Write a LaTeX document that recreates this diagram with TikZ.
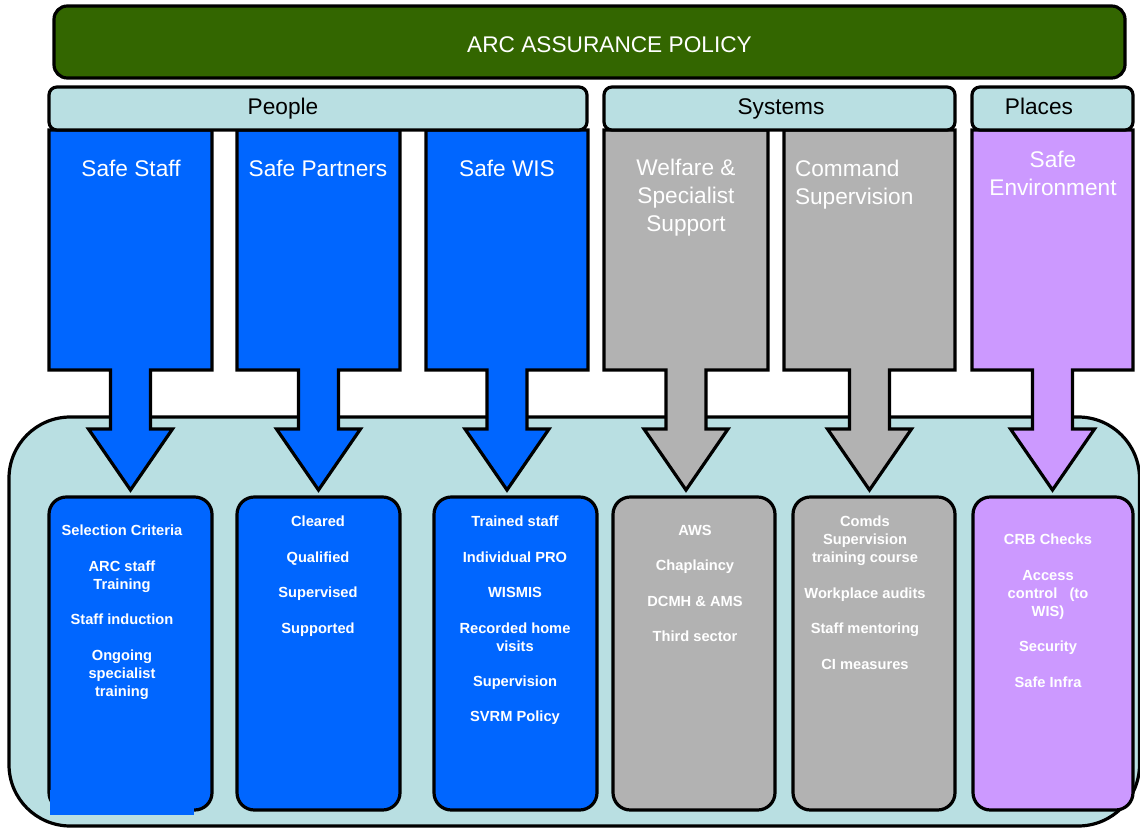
\documentclass[tikz,border=0pt]{standalone}
\usepackage{fontspec}
\setmainfont{Liberation Sans}
\usetikzlibrary{positioning,calc}

\definecolor{arcgreen}{HTML}{336600}
\definecolor{arcblue}{HTML}{0066FF}
\definecolor{arcgrey}{HTML}{B2B2B2}
\definecolor{arclilac}{HTML}{CC99FF}
\definecolor{arcpale}{HTML}{B9DFE2}
\newdimen\pxu \pxu=0.75pt
\newcommand\itemgap{13.1pt}

\tikzset{
  panel/.style={draw=black,line width=2.4pt},
  hdrbox/.style={panel,fill=arcpale,rounded corners=6pt,anchor=north west,minimum height=43\pxu},
  hdrtext/.style={anchor=base,font=\fontsize{17}{21}\selectfont},
  coltext/.style={anchor=north,text=white,align=center,font=\fontsize{17}{21}\selectfont},
  itembox/.style={panel,rounded corners=13pt,anchor=north west,minimum height=313\pxu},
  itemtext/.style={anchor=north,text=white,align=center,font=\bfseries\fontsize{11}{13.5}\selectfont}
}

\begin{document}
\begin{tikzpicture}[x=0.75pt,y=-0.75pt,every node/.style={inner sep=0pt,outer sep=0pt}]
\useasboundingbox (0,0) rectangle (1140,828);

\node[panel,fill=arcpale,rounded corners=46pt,anchor=north west,minimum width=1130.5\pxu,minimum height=409\pxu] (base) at (9,417) {};

% pillars
\foreach \n/\l/\r/\f in {1/49/212/arcblue,2/237/400/arcblue,3/426/588/arcblue,4/604/768/arcgrey,5/784/955/arcgrey,6/972/1133/arclilac}{
  \pgfmathsetmacro\c{(\l+\r)/2}
  \draw[panel,fill=\f] (\l,130) -- (\r,130) -- (\r,370) -- (\c+20,370) -- (\c+20,429) -- (\c+42,429)
    -- (\c,490) -- (\c-42,429) -- (\c-20,429) -- (\c-20,370) -- (\l,370) -- cycle;
}
\foreach \n/\x/\y/\t in {1/131/160/Safe Staff,2/318/160/Safe Partners,3/507/160/Safe WIS,4/686/159/{Welfare \&\\Specialist\\Support},6/1053/151/{Safe\\Environment}}
  \node[coltext] (ct\n) at (\x,\y) {\t};
\node[coltext,anchor=north west,align=left] (ct5) at (795,160) {Command\\Supervision};

% lower boxes
\foreach \n/\l/\w/\f in {1/49/163/arcblue,2/237/163/arcblue,3/434/163/arcblue,4/613/162/arcgrey,5/793/162/arcgrey,6/973/160/arclilac}
  \node[itembox,fill=\f,minimum width=\w\pxu] (b\n) at (\l,497) {};
\fill[arcblue] (50,790) rectangle (194,815);

\node[itemtext] (i1) at (122,525) {Selection Criteria\\[\itemgap]ARC staff\\Training\\[\itemgap]Staff induction\\[\itemgap]Ongoing\\specialist\\training};
\node[itemtext] (i2) at (318,516) {Cleared\\[\itemgap]Qualified\\[\itemgap]Supervised\\[\itemgap]Supported};
\node[itemtext] (i3) at (515,516) {Trained staff\\[\itemgap]Individual PRO\\[\itemgap]WISMIS\\[\itemgap]Recorded home\\visits\\[\itemgap]Supervision\\[\itemgap]SVRM Policy};
\node[itemtext] (i4) at (695,525) {AWS\\[\itemgap]Chaplaincy\\[\itemgap]DCMH \& AMS\\[\itemgap]Third sector};
\node[itemtext] (i5) at (865,516) {Comds\\Supervision\\training course\\[\itemgap]Workplace audits\\[\itemgap]Staff mentoring\\[\itemgap]CI measures};
\node[itemtext] (i6) at (1048,534) {CRB Checks\\[\itemgap]Access\\control\ \ \ (to\\WIS)\\[\itemgap]Security\\[\itemgap]Safe Infra};

% headers
\foreach \n/\l/\w in {1/49/538,2/604/351,3/972/161}
  \node[hdrbox,minimum width=\w\pxu] (h\n) at (\l,87) {};
\foreach \n/\x/\t in {1/283/People,2/781/Systems,3/1039/Places}
  \node[hdrtext] (ht\n) at (\x,114) {\t};

\node[panel,fill=arcgreen,rounded corners=10pt,anchor=north west,minimum width=1071\pxu,minimum height=72\pxu] (title) at (54,6) {};
\node[hdrtext,text=white] (tt) at (609.5,52) {ARC ASSURANCE POLICY};

\end{tikzpicture}
\end{document}
